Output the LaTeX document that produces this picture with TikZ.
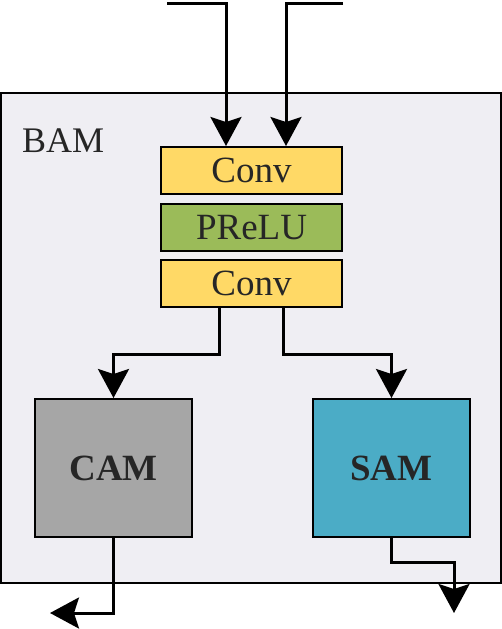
\documentclass[tikz,border=0pt]{standalone}
\usepackage{fontspec}
\setmainfont{Liberation Serif}
\usepackage{tikz}
\usepackage{xcolor}
\usetikzlibrary{arrows.meta}

\definecolor{bamgray}{HTML}{EFEEF3}
\definecolor{convyellow}{HTML}{FFD966}
\definecolor{relugreen}{HTML}{9BBB59}
\definecolor{camgray}{HTML}{A6A6A6}
\definecolor{samblue}{HTML}{4BACC6}
\definecolor{textdark}{HTML}{262626}

\begin{document}
\begin{tikzpicture}[x=1pt, y=-1pt,
	layer/.style={draw=black, line width=2pt, minimum width=181pt, minimum height=47pt,
		inner sep=0pt, font=\fontsize{37}{37}\selectfont, text=textdark},
	module/.style={draw=black, line width=2pt, minimum width=157pt, minimum height=138pt,
		inner sep=0pt, font=\fontsize{37}{37}\selectfont\bfseries, text=textdark},
	flow/.style={-{Stealth[length=29pt, width=31pt, inset=5pt]}, line width=3pt, black}]
	\useasboundingbox (0,0) rectangle (502,629);
	\draw[fill=bamgray, line width=2pt] (1,93) rectangle (501,583);
	\node[anchor=base west, font=\fontsize{36}{36}\selectfont, text=textdark, inner sep=0pt] (bam) at (22,152) {BAM};
	\node[layer, fill=convyellow] (conva) at (251.5,170.5) {Conv};
	\node[layer, fill=relugreen]  (prelu) at (251.5,227.5) {PReLU};
	\node[layer, fill=convyellow] (convb) at (251.5,283.5) {Conv};
	\node[module, fill=camgray] (cam) at (113.5,468) {CAM};
	\node[module, fill=samblue] (sam) at (391.5,468) {SAM};
	\coordinate (ina) at (167,3);
	\coordinate (inb) at (343,3);
	\coordinate (camout) at (50,613);
	\coordinate (samout) at (454,613);
	% inputs
	\draw[flow] (ina) -| ([xshift=-25.5pt]conva.north);
	\draw[flow] (inb) -| ([xshift=34.5pt]conva.north);
	% branches
	\draw[flow] ([xshift=-32.5pt]convb.south) -- ++(0,46) -| (cam.north);
	\draw[flow] ([xshift=31.5pt]convb.south) -- ++(0,46) -| (sam.north);
	% outputs
	\draw[flow] (cam.south) |- (camout);
	\draw[flow] (sam.south) -- ++(0,24) -| (samout);
\end{tikzpicture}
\end{document}
